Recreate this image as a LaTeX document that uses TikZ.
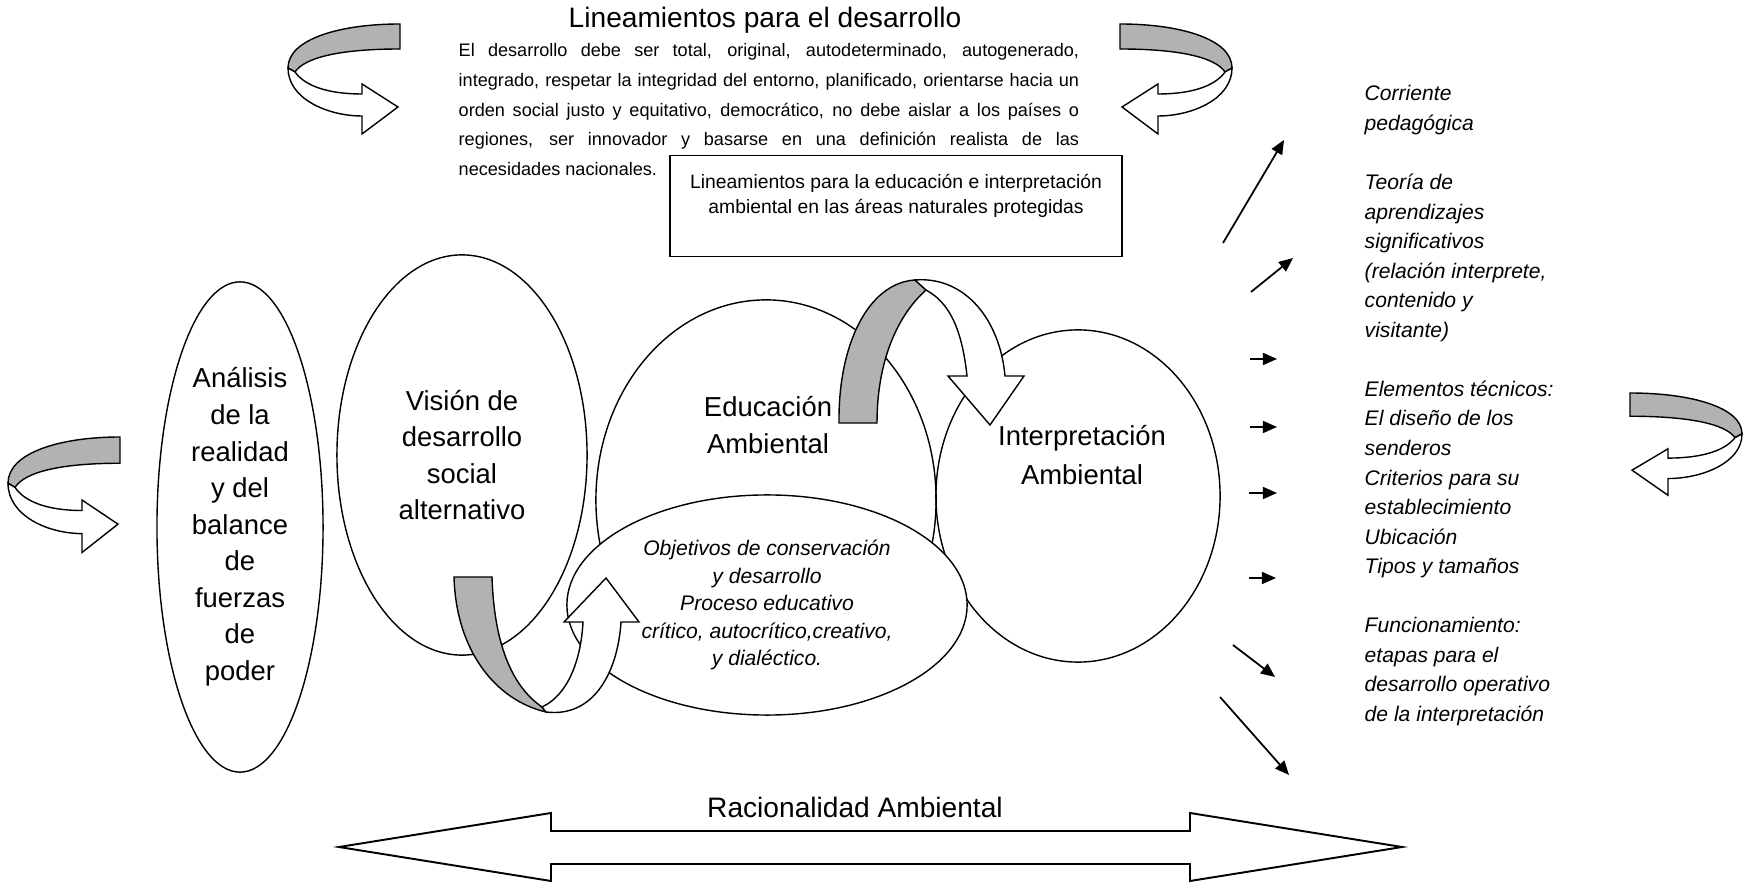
\documentclass[tikz,border=0pt]{standalone}
\usepackage{fontspec}
\setmainfont{Liberation Sans}
\usepackage{xcolor}
\usepackage{tikz}
\usetikzlibrary{positioning, shapes.geometric, arrows.meta}
\definecolor{stipple}{RGB}{178,178,178}
\tolerance=10000
\hbadness=10000

% twisted ribbon arrow: tail corner, direction (1 right, -1 left), yscale
\newcommand{\ribbonarrow}[3]{%
  \begin{scope}[shift={#1}, xscale=#2, yscale=#3]
    \draw[fill=stipple] (0,0) .. controls (-60,0) and (-112,15) .. (-112,44) -- (-105,48)
      .. controls (-95,33) and (-58,25) .. (0,25) -- cycle;
    \draw[fill=white] (-112,44) .. controls (-112,75) and (-72,92) .. (-38,92) -- (-38,110) -- (-2,83)
      -- (-38,60) -- (-38,70) .. controls (-72,70) and (-95,62) .. (-105,48) -- cycle;
  \end{scope}}

\begin{document}
\begin{tikzpicture}[x=0.01cm, y=-0.01cm,
        bubble/.style={draw, ellipse, inner sep=0pt, align=center, font=\fontsize{7.8}{10.4}\selectfont},
        bigtxt/.style={align=center, inner sep=0pt, font=\fontsize{7.8}{10.4}\selectfont},
        smalltxt/.style={inner sep=0pt, font=\itshape\fontsize{6}{8.4}\selectfont},
        pointer/.style={-{Triangle[length=4pt,width=3.4pt]}, line width=0.5pt}
    ]
        \useasboundingbox (0,0) rectangle (1743,883);

        \node (analisis) [bubble, minimum width=1.66cm, minimum height=4.9cm] at (240,527) {Análisis\\de la\\realidad\\y del\\balance\\de\\fuerzas\\de\\poder};
        \node (vision) [bubble, minimum width=2.5cm, minimum height=4cm] at (462,455) {Visión de\\desarrollo\\social\\alternativo};
        \node (edu) [draw, ellipse, minimum width=3.4cm, minimum height=4cm] at (766,500) {};
        \node (interp) [draw, ellipse, minimum width=2.84cm, minimum height=3.32cm] at (1078,496) {};
        \node (objetivos) [draw, ellipse, fill=white, inner sep=0pt, align=center, minimum width=4cm, minimum height=2.2cm, font=\itshape\fontsize{6}{7.8}\selectfont] at (767,605) {Objetivos de conservación\\y desarrollo\\Proceso educativo\\crítico, autocrítico,creativo,\\y dialéctico.};

        % ribbon from Educacion to Interpretacion
        \draw[fill=stipple] (839,423) .. controls (838,345) and (868,283) .. (915,280) -- (926,290) .. controls (898,315) and (877,360) .. (877,423) -- cycle;
        \draw[fill=white] (915,280) .. controls (965,276) and (1000,320) .. (1005,376) -- (1024,376) -- (990,425) -- (948,376) -- (967,376) .. controls (962,330) and (950,303) .. (926,290) -- cycle;
        % ribbon under Vision
        \draw[fill=stipple] (454,577) -- (492,577) .. controls (494,640) and (510,685) .. (542,707) -- (546,712) .. controls (495,700) and (456,650) .. (454,577) -- cycle;
        \draw[fill=white] (546,712) .. controls (595,718) and (618,670) .. (621,622) -- (639,622) -- (606,578) -- (564,622) -- (583,622) .. controls (581,660) and (568,695) .. (542,707) -- cycle;

        \ribbonarrow{(400,24)}{1}{1}
        \ribbonarrow{(1120,24)}{-1}{1}
        \ribbonarrow{(120,437)}{1}{1.05}
        \ribbonarrow{(1630,393)}{-1}{0.93}

        \node (edutxt) [bigtxt] at (768,425) {Educación\\Ambiental};
        \node (interptxt) [bigtxt, font=\fontsize{7.8}{11}\selectfont] at (1082,455) {Interpretación\\Ambiental};

        \node (titulo) [font=\fontsize{8}{10}\selectfont] at (765,20) {Lineamientos para el desarrollo};
        \node (parrafo) [anchor=north west, inner sep=0pt, text width=6.2cm, align=justify, font=\fontsize{5.15}{8.45}\selectfont] at (458,43) {El desarrollo debe ser total, original, autodeterminado, autogenerado,\linebreak integrado, respetar la integridad del entorno, planificado, orientarse hacia un\linebreak orden social justo y equitativo, democrático, no debe aislar a los países o\linebreak regiones, ser innovador y basarse en una definición realista de las\linebreak necesidades nacionales.};

        \node (caja) [draw, fill=white, minimum width=4.52cm, minimum height=1.01cm] at (896,206) {};
        \node (cajatxt) [align=center, inner sep=0pt, font=\fontsize{5.5}{7.1}\selectfont] at (896,196) {Lineamientos para la educación e interpretación\\ambiental en las áreas naturales protegidas};

        \node (temas) [smalltxt, anchor=north west, align=left] at (1364,85) {Corriente\\pedagógica\\[8.4pt]Teoría de\\aprendizajes\\significativos\\(relación interprete,\\contenido y\\visitante)\\[8.4pt]Elementos técnicos:\\El diseño de los\\senderos\\Criterios para su\\establecimiento\\Ubicación\\Tipos y tamaños\\[8.4pt]Funcionamiento:\\etapas para el\\desarrollo operativo\\de la interpretación};

        \foreach \n/\xa/\ya/\xb/\yb in {1/1223/243/1284/140, 2/1251/292/1293/258, 3/1250/359/1277/359, 4/1250/427/1277/427, 5/1249/493/1277/493, 6/1249/578/1276/578, 7/1233/645/1275/677, 8/1220/697/1289/775}{
            \coordinate (from\n) at (\xa,\ya);
            \coordinate (to\n) at (\xb,\yb);
            \draw[pointer] (from\n) -- (to\n);
        }

        \draw[line width=0.55pt, fill=white] (339,847) -- (551,813) -- (551,831) -- (1190,831) -- (1190,813) -- (1402,847) -- (1190,881) -- (1190,864) -- (551,864) -- (551,881) -- cycle;
        \node (racional) [font=\fontsize{8}{10}\selectfont] at (855,807) {Racionalidad Ambiental};
    \end{tikzpicture}
\end{document}
